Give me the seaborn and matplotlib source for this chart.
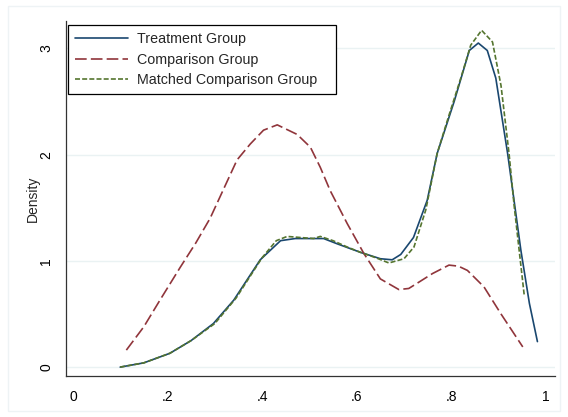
import matplotlib
matplotlib.use("Agg")
import matplotlib.pyplot as plt
import matplotlib.patches as mpatches
import numpy as np
import pandas as pd
import seaborn as sns

# Kernel density curves
treat_x = [0.10, 0.15, 0.205, 0.25, 0.297, 0.34, 0.396, 0.439, 0.47, 0.502, 0.53, 0.559,
           0.608, 0.65, 0.675, 0.693, 0.72, 0.749, 0.770, 0.806, 0.838, 0.857,
           0.876, 0.894, 0.919, 0.947, 0.965, 0.982]
treat_y = [0.0, 0.04, 0.13, 0.25, 0.41, 0.63, 1.01, 1.19, 1.21, 1.21, 1.21, 1.16,
           1.08, 1.02, 1.01, 1.06, 1.22, 1.57, 2.01, 2.50, 2.98, 3.05,
           2.98, 2.72, 2.01, 1.10, 0.6, 0.24]

comp_x = [0.113, 0.15, 0.184, 0.227, 0.26, 0.29, 0.318, 0.347, 0.375, 0.403, 0.432,
          0.474, 0.502, 0.523, 0.544, 0.58, 0.615, 0.65, 0.689, 0.71, 0.728, 0.76,
          0.795, 0.815, 0.834, 0.869, 0.905, 0.951]
comp_y = [0.16, 0.38, 0.63, 0.94, 1.17, 1.40, 1.67, 1.95, 2.10, 2.23, 2.28,
          2.19, 2.07, 1.88, 1.66, 1.35, 1.07, 0.83, 0.73, 0.74, 0.79, 0.88,
          0.96, 0.95, 0.91, 0.755, 0.50, 0.19]

match_x = [0.10, 0.15, 0.205, 0.25, 0.30, 0.345, 0.40, 0.43, 0.453, 0.48, 0.509, 0.523,
           0.55, 0.58, 0.608, 0.64, 0.668, 0.70, 0.721, 0.746, 0.770, 0.795, 0.820,
           0.841, 0.864, 0.887, 0.905, 0.922, 0.933, 0.954]
match_y = [0.0, 0.04, 0.13, 0.25, 0.41, 0.65, 1.03, 1.19, 1.23, 1.22, 1.21, 1.23,
           1.19, 1.13, 1.08, 1.03, 0.98, 1.02, 1.13, 1.48, 2.01, 2.37, 2.72,
           3.03, 3.17, 3.06, 2.65, 2.01, 1.51, 0.68]

labels = ["Treatment Group", "Comparison Group", "Matched Comparison Group"]
colors = ["#1a476f", "#90353b", "#55752f"]
styles = ["-", (0, (7, 2.5)), (0, (3, 1.3))]

x_ticks = [0, 0.2, 0.4, 0.6, 0.8, 1.0]
x_ticklabels = ["0", ".2", ".4", ".6", ".8", "1"]
y_ticks = [0, 1, 2, 3]

sns.set_style("white")
plt.rcParams['font.family'] = ['Liberation Sans', 'DejaVu Sans']

fig = plt.figure(figsize=(5.68, 4.17), dpi=100)
ax = fig.add_axes([0.116, 0.098, 0.861, 0.851])

# faint outer graph-region frame (Stata look)
fig.patches.append(mpatches.Rectangle((8 / 568, 6 / 417), 552 / 568, 405 / 417,
                                      transform=fig.transFigure, fill=False,
                                      edgecolor="#eef3f5", linewidth=1.0))

series = [(treat_x, treat_y), (comp_x, comp_y), (match_x, match_y)]
for (xs, ys), lab, col, ls in zip(series, labels, colors, styles):
    sns.lineplot(x=xs, y=ys, ax=ax, color=col, linestyle=ls, linewidth=1.2,
                 label=lab, sort=False, estimator=None)

for yv in y_ticks:
    ax.axhline(yv, color="#eaf2f3", linewidth=1.0, zorder=0)

ax.set_xlim(-0.0148, 1.019)
ax.set_ylim(-0.085, 3.255)
ax.set_xticks(x_ticks)
ax.set_xticklabels(x_ticklabels)
ax.set_yticks(y_ticks)
ax.set_yticklabels([str(v) for v in y_ticks], rotation=90, va="center")
ax.tick_params(axis="both", direction="out", length=6, width=0.9, color="#333333",
               labelsize=10, labelcolor="black", pad=3)
ax.tick_params(axis="x", length=7)
ax.set_ylabel("Density", fontsize=10, labelpad=0)
ax.set_xlabel("")

for side in ["top", "right"]:
    ax.spines[side].set_visible(False)
for side in ["left", "bottom"]:
    ax.spines[side].set_color("#333333")
    ax.spines[side].set_linewidth(0.9)

leg = ax.legend(loc="upper left", bbox_to_anchor=(0.004, 0.5, 0.548, 0.4896),
                mode="expand", fontsize=10.3,
                frameon=True, fancybox=False, edgecolor="black", framealpha=1,
                handlelength=3.7, handletextpad=0.6, borderpad=0.5,
                labelspacing=0.45, borderaxespad=0)
leg.get_frame().set_linewidth(0.9)

fig.savefig("out.png", dpi=100)
